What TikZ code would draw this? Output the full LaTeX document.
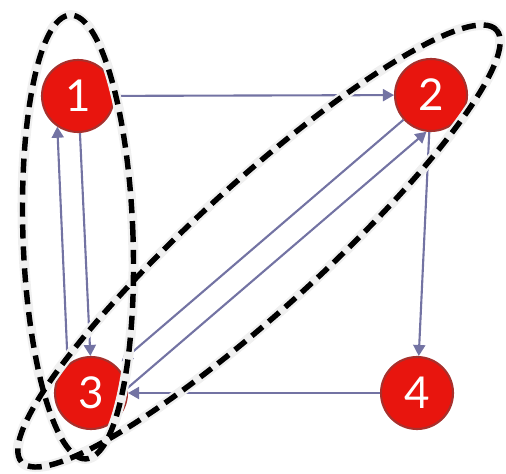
\documentclass[tikz,border=0pt]{standalone}
\usepackage{fontspec}
\setsansfont{Lato}
\usepackage{xcolor}
\usepackage{tikz}
\usetikzlibrary{arrows.meta}
\definecolor{nodered}{HTML}{E8150E}
\definecolor{rimred}{HTML}{A8302C}
\definecolor{edgegray}{HTML}{7373A3}

\begin{document}
\begin{tikzpicture}[
  x=0.02cm,y=0.02cm,
  font=\sffamily,
  vertex/.style={circle,draw=rimred,fill=nodered,line width=1.2pt,text=white,minimum size=1.44cm,inner sep=0pt,font=\sffamily\fontsize{25}{25}\selectfont},
  arr/.style={-{Triangle[length=2.2mm,width=2.4mm]},line width=1.2pt,draw=edgegray},
  halo/.style={draw=black!6,line width=0.2cm},
  group/.style={draw=black,line width=3.1pt,dash pattern=on 8pt off 4.5pt}
]
\useasboundingbox (0,0) rectangle (506,473);

\node[vertex] (n1) at (78,377) {1};
\node[vertex] (n2) at (431,378) {2};
\node[vertex] (n3) at (91,80) {3};
\node[vertex] (n4) at (417,80) {4};

\draw[arr] (n1)--(n2);
\draw[arr] (n2)--(n4);
\draw[arr] (n4)--(n3);
\draw[arr] (n3.129)--(n1.236);
\draw[arr] (n1.273)--(n3.91);
\draw[arr,shorten >=4pt] (n2.222)--(n3.47);
\draw[arr] (n3.8)--(n2.263);

% dashed groups
\draw[halo,rotate around={2:(78,236)}] (78,236) ellipse [x radius=55,y radius=222];
\draw[halo,rotate around={42.3:(259,227)}] (259,227) ellipse [x radius=321,y radius=63];
\draw[group,rotate around={2:(78,236)}] (78,236) ellipse [x radius=55,y radius=222];
\draw[group,rotate around={42.3:(259,227)}] (259,227) ellipse [x radius=321,y radius=63];
\end{tikzpicture}
\end{document}
